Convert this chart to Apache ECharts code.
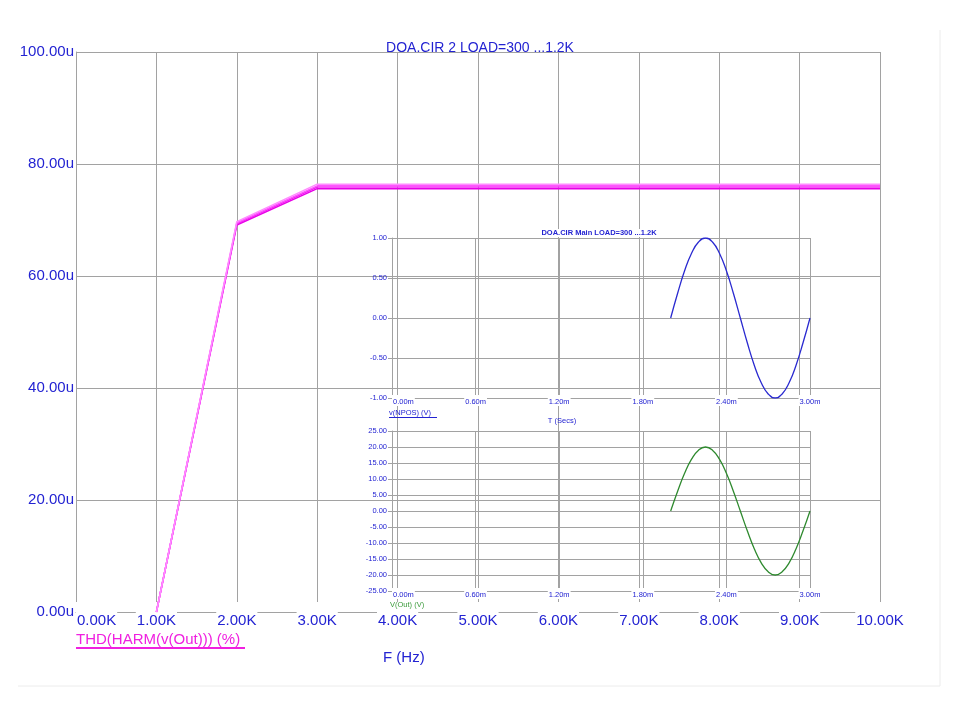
<!DOCTYPE html>
<html><head><meta charset="utf-8">
<script src="https://cdn.jsdelivr.net/npm/echarts@6/dist/echarts.min.js"></script>
<style>html,body{margin:0;padding:0;background:#fff}#c{width:960px;height:720px}</style>
</head><body><div id="c"></div>
<script>
// ---- main THD plot data (F in Hz, THD in u%) ----
const freqHz = [1000, 2000, 3000, 4000, 5000, 6000, 7000, 8000, 9000, 10000];
const thdLoad300 = [0, 69.1, 75.6, 75.6, 75.6, 75.6, 75.6, 75.6, 75.6, 75.6];
const thdLoad600 = [0, 69.3, 75.9, 75.9, 75.9, 75.9, 75.9, 75.9, 75.9, 75.9];
const thdLoad900 = [0, 69.5, 76.1, 76.1, 76.1, 76.1, 76.1, 76.1, 76.1, 76.1];
const thdLoad1200 = [0, 69.7, 76.4, 76.4, 76.4, 76.4, 76.4, 76.4, 76.4, 76.4];
const mainXTicks = ['0.00K','1.00K','2.00K','3.00K','4.00K','5.00K','6.00K','7.00K','8.00K','9.00K','10.00K'];
const mainYTicks = ['0.00u','20.00u','40.00u','60.00u','80.00u','100.00u'];

// ---- inset transient plot data (T in ms) ----
const insetT = [2.00,2.05,2.10,2.15,2.20,2.25,2.30,2.35,2.40,2.45,2.50,2.55,2.60,2.65,2.70,2.75,2.80,2.85,2.90,2.95,3.00];
const vNpos = [0,0.31,0.59,0.81,0.95,1.00,0.95,0.81,0.59,0.31,0,-0.31,-0.59,-0.81,-0.95,-1.00,-0.95,-0.81,-0.59,-0.31,0];
const vOut = [0,6.2,11.8,16.2,19.0,20.0,19.0,16.2,11.8,6.2,0,-6.2,-11.8,-16.2,-19.0,-20.0,-19.0,-16.2,-11.8,-6.2,0];
const insetTTicks = ['0.00m','0.60m','1.20m','1.80m','2.40m','3.00m'];
const vNposTicks = ['-1.00','-0.50','0.00','0.50','1.00'];
const vOutTicks = ['-25.00','-20.00','-15.00','-10.00','-5.00','0.00','5.00','10.00','15.00','20.00','25.00'];

const BLUE = '#2323d2';
const GRID = '#a2a2a2';
const FONT = '"Liberation Sans", Arial, sans-serif';
function pairs(xs, ys) { return xs.map((x, i) => [x, ys[i]]); }

const chart = echarts.init(document.getElementById('c'), null, {renderer: 'canvas'});

const mainColors = ['#e600e6', '#f21ef2', '#ff55ff', '#ff8cff'];
const mainData = [thdLoad300, thdLoad600, thdLoad900, thdLoad1200];

const insetXAxis = (gi) => ({
  type: 'value', gridIndex: gi, min: 0, max: 3, interval: 0.6, z: 2,
  axisLine: {show: true, lineStyle: {color: GRID, width: 1}},
  axisTick: {show: false},
  splitLine: {show: true, lineStyle: {color: GRID, width: 1}},
  axisLabel: {
    color: BLUE, fontSize: 7.5, fontFamily: FONT, margin: -3,
    padding: [3, 1, 0, 1], backgroundColor: '#fff', alignMinLabel: 'left',
    formatter: (v, i) => insetTTicks[i]
  }
});
const insetYAxis = (gi, min, max, step, ticks) => ({
  type: 'value', gridIndex: gi, min: min, max: max, interval: step, z: 2,
  axisLine: {show: true, lineStyle: {color: GRID, width: 1}},
  axisTick: {show: true, length: 4, lineStyle: {color: GRID}},
  splitLine: {show: true, lineStyle: {color: GRID, width: 1}},
  axisLabel: {
    color: BLUE, fontSize: 7.5, fontFamily: FONT, margin: 5,
    formatter: (v, i) => ticks[i]
  }
});

const option = {
  backgroundColor: '#fff',
  animation: false,
  title: {
    text: 'DOA.CIR 2 LOAD=300 ...1.2K', left: 'center', top: 36,
    textStyle: {color: BLUE, fontSize: 14, fontWeight: 'normal', fontFamily: FONT}
  },
  grid: [
    {left: 76, top: 52, width: 804, height: 560},
    {left: 392, top: 238, width: 418, height: 160},
    {left: 392, top: 431, width: 418, height: 160}
  ],
  xAxis: [
    {
      type: 'value', gridIndex: 0, min: 0, max: 10000, interval: 1000,
      axisLine: {show: true, lineStyle: {color: GRID, width: 1}},
      axisTick: {show: false},
      splitLine: {show: true, lineStyle: {color: GRID, width: 1}},
      axisLabel: {
        color: BLUE, fontSize: 15, fontFamily: FONT, margin: -10,
        padding: [11, 1, 0, 1], backgroundColor: '#fff', alignMinLabel: 'left',
        formatter: (v, i) => mainXTicks[i]
      }
    },
    insetXAxis(1),
    insetXAxis(2)
  ],
  yAxis: [
    {
      type: 'value', gridIndex: 0, min: 0, max: 100, interval: 20,
      axisLine: {show: true, lineStyle: {color: GRID, width: 1}},
      axisTick: {show: false},
      splitLine: {show: true, lineStyle: {color: GRID, width: 1}},
      axisLabel: {
        color: BLUE, fontSize: 15, fontFamily: FONT, margin: 2,
        formatter: (v, i) => mainYTicks[i]
      }
    },
    insetYAxis(1, -1, 1, 0.5, vNposTicks),
    insetYAxis(2, -25, 25, 5, vOutTicks)
  ],
  series: mainData.map((d, k) => ({
    type: 'line', xAxisIndex: 0, yAxisIndex: 0, data: pairs(freqHz, d),
    symbol: 'none', lineStyle: {color: mainColors[k], width: 1.5}, z: 5
  })).concat([
    {type: 'line', xAxisIndex: 1, yAxisIndex: 1, data: pairs(insetT, vNpos), smooth: true,
     symbol: 'none', lineStyle: {color: '#2a2ad0', width: 1.3}},
    {type: 'line', xAxisIndex: 2, yAxisIndex: 2, data: pairs(insetT, vOut), smooth: true,
     symbol: 'none', lineStyle: {color: '#2f8a2f', width: 1.3}}
  ]),
  graphic: [
    {type: 'line', z: 100, shape: {x1: 940, y1: 30, x2: 940, y2: 686}, style: {stroke: '#ececec', lineWidth: 1}, silent: true},
    {type: 'line', z: 100, shape: {x1: 18, y1: 686, x2: 940, y2: 686}, style: {stroke: '#ececec', lineWidth: 1}, silent: true},
    {type: 'text', z: 100, left: 76, top: 632, style: {text: 'THD(HARM(v(Out))) (%)', fill: '#f020e0', font: '15px ' + FONT}},
    {type: 'line', z: 100, shape: {x1: 76, y1: 648, x2: 245, y2: 648}, style: {stroke: '#f020e0', lineWidth: 2}},
    {type: 'text', z: 100, left: 383, top: 650, style: {text: 'F (Hz)', fill: BLUE, font: '15px ' + FONT}},
    {type: 'text', z: 100, x: 599, y: 233, style: {text: 'DOA.CIR Main LOAD=300 ...1.2K', fill: BLUE, font: 'bold 7.5px ' + FONT, align: 'center', verticalAlign: 'middle', backgroundColor: '#fff'}},
    {type: 'text', z: 100, x: 389, y: 413, style: {text: 'v(NPOS) (V)', fill: BLUE, font: '7.5px ' + FONT, verticalAlign: 'middle'}},
    {type: 'line', z: 100, shape: {x1: 389, y1: 417.5, x2: 437, y2: 417.5}, style: {stroke: BLUE, lineWidth: 1}},
    {type: 'text', z: 100, x: 562, y: 421, style: {text: 'T (Secs)', fill: BLUE, font: '7.5px ' + FONT, align: 'center', verticalAlign: 'middle'}},
    {type: 'text', z: 100, x: 390, y: 605, style: {text: 'V(Out) (V)', fill: '#3a9a3a', font: '7.5px ' + FONT, verticalAlign: 'middle'}}
  ]
};
chart.setOption(option);
</script>
</body></html>
